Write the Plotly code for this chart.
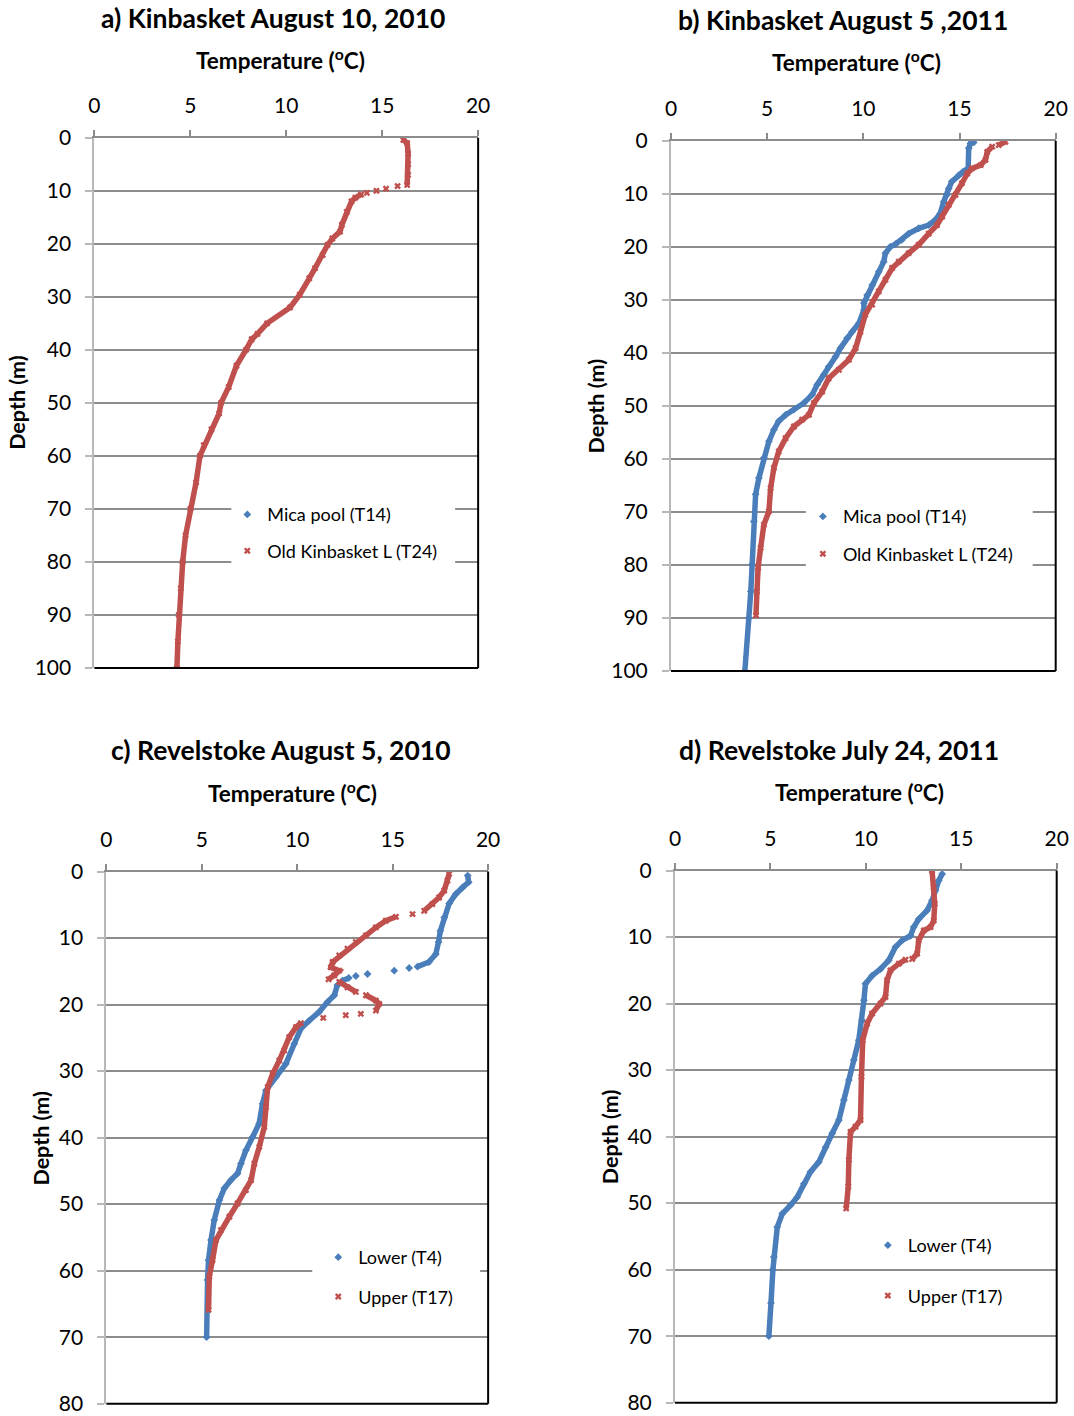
import plotly.graph_objects as go

# ---------------- data ----------------
# Panel a) Kinbasket August 10, 2010 - Old Kinbasket L (T24)
a_t24_depth = [0.4, 1.0, 3, 5, 7, 8.9, 9.1, 9.6, 10.0, 10.4, 10.7, 11.3, 12.0, 14, 16.4, 17.7, 19.0, 20.2,
               22.1, 24.6, 26.5, 29.6, 32, 35, 37, 38, 40, 43, 47, 50, 52, 55, 58, 60, 65, 70, 75, 80,
               85, 90, 95, 100]
a_t24_temp = [16.1, 16.3, 16.35, 16.35, 16.35, 16.3, 15.8, 15.2, 14.7, 14.2, 13.9, 13.6, 13.4, 13.15, 12.9,
              12.8, 12.4, 12.15, 11.9, 11.5, 11.2, 10.7, 10.2, 9.0, 8.5, 8.2, 7.9, 7.4, 7.0, 6.6, 6.5, 6.1,
              5.7, 5.5, 5.3, 5.0, 4.75, 4.6, 4.5, 4.4, 4.35, 4.3]

# Panel b) Kinbasket August 5, 2011
b_t14_depth = [0.3, 0.5, 1.4, 5.2, 5.8, 6.5, 7.7, 9.0, 10.2, 11.5, 13.7, 14.9, 15.9, 16.5, 17.5, 18.7, 19.5,
               20.0, 21.2, 22.8, 24.7, 27.2, 29.1, 30.6, 31.9, 34.4, 36.0, 37.2, 39.1, 40.7, 42.6, 44.1,
               46.0, 47.9, 49.5, 50.7, 51.7, 52.9, 54.5, 56.7, 59.8, 63.6, 66.7, 71.8, 79.9, 85, 90, 100]
b_t14_temp = [15.74, 15.57, 15.48, 15.45, 15.2, 14.96, 14.6, 14.44, 14.35, 14.18, 14.0, 13.75, 13.4, 12.88,
              12.36, 12.0, 11.67, 11.4, 11.15, 11.06, 10.8, 10.46, 10.2, 10.03, 10.03, 9.77, 9.42, 9.16,
              8.81, 8.56, 8.2, 7.95, 7.6, 7.34, 6.9, 6.39, 5.96, 5.6, 5.35, 5.09, 4.83, 4.57, 4.4, 4.31,
              4.22, 4.15, 4.05, 3.84]
b_t24_depth = [0.2, 0.8, 1.1, 2.1, 3.6, 4.6, 5.2, 6.2, 8.0, 10.2, 12.1, 14.3, 15.9, 17.5, 19.6, 21.2, 22.8,
               24.0, 26.2, 28.4, 30.9, 32.8, 36.0, 39.1, 41.3, 43.2, 44.8, 47.3, 49.5, 51.7, 52.6, 53.9,
               56.1, 58.6, 61.7, 65.5, 69.9, 72.4, 76.8, 80.5, 85, 89.5]
b_t24_temp = [17.39, 17.04, 16.7, 16.44, 16.35, 16.1, 15.65, 15.4, 15.13, 14.79, 14.44, 14.1, 13.83, 13.4,
              12.88, 12.36, 11.84, 11.5, 11.15, 10.8, 10.46, 10.1, 9.85, 9.6, 9.25, 8.73, 8.2, 7.86, 7.43,
              7.17, 6.82, 6.39, 5.96, 5.6, 5.35, 5.18, 5.09, 4.83, 4.66, 4.53, 4.47, 4.42]

# Panel c) Revelstoke August 5, 2010
c_t4_depth = [0.6, 1.6, 2.4, 3.4, 4.8, 6.9, 8.9, 10.6, 12.4, 13.6, 14.3, 14.5, 14.9, 15.4, 15.7, 16.0, 16.4,
              17.1, 18.6, 19.6, 21.1, 22.4, 23.6, 25.9, 28.9, 30.9, 32.9, 34.9, 37.9, 39.9, 41.9, 43.9,
              45.4, 46.4, 47.6, 49.4, 52.4, 55.4, 58.4, 61.4, 70]
c_t4_temp = [18.93, 18.98, 18.66, 18.3, 17.96, 17.7, 17.5, 17.4, 17.26, 16.9, 16.3, 15.86, 15.08, 13.68,
             13.07, 12.7, 12.37, 12.1, 11.94, 11.59, 11.15, 10.63, 10.19, 9.84, 9.4, 8.88, 8.36, 8.18, 8.0,
             7.66, 7.31, 7.05, 6.87, 6.52, 6.18, 5.92, 5.65, 5.48, 5.35, 5.3, 5.25]
c_t17_depth = [0.35, 1.35, 2.85, 3.9, 4.9, 5.9, 6.4, 6.8, 7.4, 8.4, 9.6, 10.6, 11.6, 12.6, 13.6, 14.4, 14.9,
               15.6, 16.2, 16.6, 17.4, 18.1, 18.6, 19.4, 19.9, 20.9, 21.4, 21.6, 22.0, 22.8, 23.4, 24.9,
               26.9, 28.4, 30.4, 32.4, 35.4, 38.4, 41.4, 43.9, 46.4, 47.9, 49.9, 51.9, 53.9, 55.4, 58.4,
               60.9, 65.9]
c_t17_temp = [17.96, 17.87, 17.7, 17.43, 17.08, 16.65, 16.04, 15.17, 14.64, 14.12, 13.6, 13.07, 12.63, 12.2,
              11.85, 11.76, 12.2, 11.94, 11.64, 12.2, 12.63, 13.07, 13.6, 14.12, 14.29, 14.12, 13.33, 12.54,
              11.36, 10.19, 9.93, 9.58, 9.32, 9.06, 8.71, 8.45, 8.36, 8.27, 8.01, 7.75, 7.58, 7.31, 6.87,
              6.44, 6.0, 5.74, 5.56, 5.39, 5.35]

# Panel d) Revelstoke July 24, 2011
d_t4_depth = [0.5, 1.5, 3.0, 4.5, 6.0, 7.3, 8.5, 9.8, 10.5, 11.5, 13.5, 14.8, 15.8, 17.0, 19.5, 22.5, 25.5,
              28.5, 31.5, 34.5, 37.5, 39.5, 41.6, 43.8, 45.3, 47.1, 49.1, 50.3, 51.6, 53.6, 58.1, 60, 65, 70]
d_t4_temp = [14.0, 13.82, 13.65, 13.47, 13.21, 12.77, 12.51, 12.34, 11.9, 11.55, 11.2, 10.77, 10.33, 9.98,
             9.9, 9.8, 9.63, 9.37, 9.11, 8.85, 8.59, 8.24, 7.89, 7.54, 7.1, 6.75, 6.4, 6.06, 5.62, 5.36,
             5.18, 5.13, 5.03, 4.92]
d_t17_depth = [0, 2.5, 5.0, 7.5, 8.5, 9.0, 10.5, 12.5, 13.3, 13.4, 14.0, 15.0, 16.5, 19.0, 20.0, 21.5, 23.0,
               25.5, 31.0, 37.5, 38.5, 39.3, 43.5, 47.5, 50.8]
d_t17_temp = [13.47, 13.56, 13.61, 13.56, 13.39, 13.04, 12.77, 12.69, 12.43, 12.08, 11.73, 11.29, 11.11,
              11.03, 10.77, 10.33, 10.07, 9.84, 9.77, 9.72, 9.46, 9.2, 9.11, 9.08, 8.97]

titles = ["a) Kinbasket August 10, 2010", "b) Kinbasket August 5 ,2011",
          "c) Revelstoke August 5, 2010", "d) Revelstoke July 24, 2011"]
names_kin = ["Mica pool (T14)", "Old Kinbasket L (T24)"]
names_rev = ["Lower (T4)", "Upper (T17)"]
temp_ticks = [0, 5, 10, 15, 20]

# ---------------- styling ----------------
W, H = 1074, 1416
FONT = "Lato"
BLUE = "#4a7ebb"
RED = "#c0504d"
GRID = "#8c8c8c"
LEFTLINE = "#b8b8b8"

# the captured picture comes out slightly shrunk/offset; positions below are
# target pixels in the final picture and are mapped back through this.
S, OFFX, OFFY = 0.984, 6.5, 12.0


def fx(p):
    return ((p - OFFX) / S) / W


def fy(p):
    return 1 - ((p - OFFY) / S) / H


def segments(temp, depth, thr=0.9):
    """Break the drawn line where consecutive samples are sparse (steep gradient)."""
    xs, ys = [temp[0]], [depth[0]]
    for i in range(1, len(temp)):
        dd = abs(depth[i] - depth[i - 1]) or 1e-6
        if abs(temp[i] - temp[i - 1]) / dd > thr:
            xs.append(None)
            ys.append(None)
        xs.append(temp[i])
        ys.append(depth[i])
    return xs, ys


fig = go.Figure()

# panel geometry in pixels: (left, right, top, bottom), depth max
panels = [
    dict(l=95, r=479, t=136, b=667, dmax=100),
    dict(l=672, r=1057, t=139, b=670, dmax=100),
    dict(l=107, r=489, t=871, b=1404, dmax=80),
    dict(l=676, r=1058, t=870, b=1403, dmax=80),
]

series = [
    [(None, None, names_kin[0], BLUE, "diamond"), (a_t24_temp, a_t24_depth, names_kin[1], RED, "x")],
    [(b_t14_temp, b_t14_depth, names_kin[0], BLUE, "diamond"), (b_t24_temp, b_t24_depth, names_kin[1], RED, "x")],
    [(c_t4_temp, c_t4_depth, names_rev[0], BLUE, "diamond"), (c_t17_temp, c_t17_depth, names_rev[1], RED, "x")],
    [(d_t4_temp, d_t4_depth, names_rev[0], BLUE, "diamond"), (d_t17_temp, d_t17_depth, names_rev[1], RED, "x")],
]

legend_pos = [
    dict(x=228, y=495, gap=10),
    dict(x=804, y=497, gap=11),
    dict(x=319, y=1239, gap=13),
    dict(x=869, y=1227, gap=24),
]

TXT_DY = 5  # plotly centres text a little below the requested point
title_pos = [(274, 21), (844, 23), (282, 754), (840, 754)]
temp_pos = [(281, 62), (858, 64), (293, 796), (861, 795)]
depth_pos = [(18, 401), (597, 405), (42, 1138), (611, 1137)]

cover_rects = [(232, 456, 490, 575), (807, 1034, 495, 580), (313, 481, 1245, 1320)]

annotations = []
shapes = []
layout_axes = {}

for i, (pn, ser) in enumerate(zip(panels, series)):
    k = "" if i == 0 else str(i + 1)
    xa, ya = "x" + k, "y" + k
    leg = "legend" + k
    for j, (t, d, name, col, sym) in enumerate(ser):
        if t is not None:
            xs, ys = segments(t, d)
            fig.add_trace(go.Scatter(
                x=xs, y=ys, mode="lines+markers", xaxis=xa, yaxis=ya, showlegend=False,
                line=dict(color=col, width=5.5), marker=dict(symbol=sym, size=6, color=col),
                connectgaps=False, hoverinfo="x+y"))
        # legend entry (marker only)
        fig.add_trace(go.Scatter(
            x=[None], y=[None], mode="markers", xaxis=xa, yaxis=ya, name=name,
            legend=leg, legendgroup=f"g{i}{j}",
            marker=dict(symbol=sym, size=6, color=col)))

    layout_axes["xaxis" + k] = dict(
        domain=[fx(pn["l"]), fx(pn["r"])], anchor=ya, side="top", range=[0, 20],
        tickvals=temp_ticks, ticks="outside", ticklen=6, tickcolor=GRID, tickwidth=1.5,
        showline=True, linecolor=GRID, linewidth=2, showgrid=False, zeroline=False,
        tickfont=dict(family=FONT, size=21, color="black"), ticklabelstandoff=8)
    layout_axes["yaxis" + k] = dict(
        domain=[fy(pn["b"]), fy(pn["t"])], anchor=xa, range=[pn["dmax"], 0], dtick=10,
        ticks="outside", ticklen=7, tickcolor=LEFTLINE, tickwidth=1.5,
        showline=True, linecolor=LEFTLINE, linewidth=2, showgrid=True, gridcolor=GRID,
        gridwidth=2, zeroline=False,
        tickfont=dict(family=FONT, size=21, color="black"), ticklabelstandoff=10)

    # black right & bottom border of plot area
    shapes.append(dict(type="line", xref=xa + " domain", yref=ya + " domain", x0=1, x1=1, y0=0, y1=1,
                       line=dict(color="black", width=2), layer="above"))
    shapes.append(dict(type="line", xref=xa + " domain", yref=ya + " domain", x0=0, x1=1, y0=0, y1=0,
                       line=dict(color="black", width=2), layer="above"))

    lp = legend_pos[i]
    layout_axes[leg] = dict(
        x=fx(lp["x"]), y=fy(lp["y"]), xanchor="left", yanchor="top", bgcolor="rgba(0,0,0,0)",
        borderwidth=0, font=dict(family=FONT, size=18, color="black"),
        tracegroupgap=lp["gap"], traceorder="grouped")

    annotations.append(dict(text=titles[i], x=fx(title_pos[i][0]), y=fy(title_pos[i][1] - TXT_DY),
                            xref="paper", yref="paper", showarrow=False, xanchor="center",
                            yanchor="middle", font=dict(family=FONT, size=26.5, color="black",
                                                        weight="bold")))
    annotations.append(dict(text="Temperature (<sup>o</sup>C)", x=fx(temp_pos[i][0]),
                            y=fy(temp_pos[i][1] - TXT_DY),
                            xref="paper", yref="paper", showarrow=False, xanchor="center",
                            yanchor="middle", font=dict(family=FONT, size=22.5, color="black",
                                                        weight="bold")))
    annotations.append(dict(text="Depth (m)", x=fx(depth_pos[i][0]), y=fy(depth_pos[i][1]),
                            xref="paper", yref="paper", showarrow=False, xanchor="center",
                            yanchor="middle", textangle=-90,
                            font=dict(family=FONT, size=21.5, color="black", weight="bold")))

for (l, r, t, b) in cover_rects:
    shapes.append(dict(type="rect", xref="paper", yref="paper", x0=fx(l), x1=fx(r), y0=fy(b), y1=fy(t),
                       fillcolor="white", line=dict(width=0), layer="above"))

fig.update_layout(
    width=W, height=H, margin=dict(l=0, r=0, t=0, b=0),
    paper_bgcolor="white", plot_bgcolor="white",
    font=dict(family=FONT, color="black"),
    annotations=annotations, shapes=shapes, **layout_axes)

fig.write_html("out.html")
